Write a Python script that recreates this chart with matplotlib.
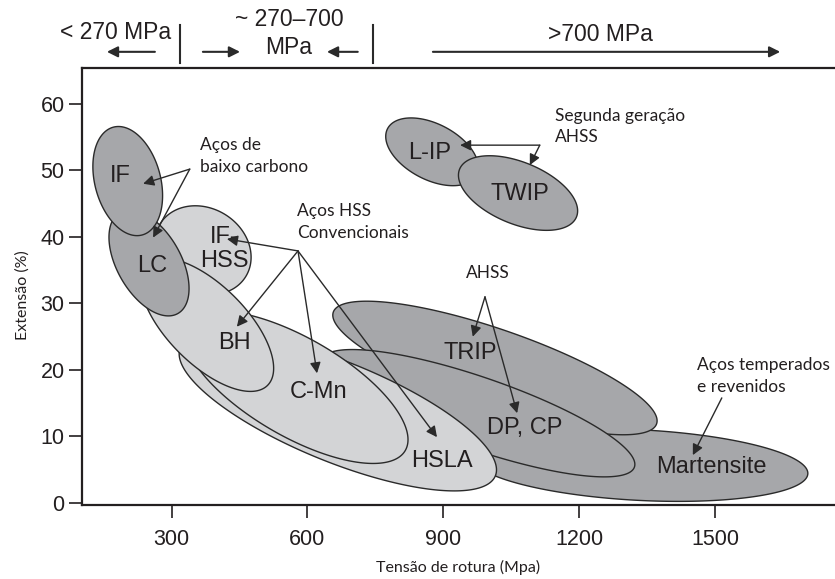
import numpy as np
import matplotlib.pyplot as plt

# steel families: centre (tensile strength MPa, elongation %) and two
# conjugate semi-axes of each ellipse, in the same units
familias = ['Martensite', 'TRIP', 'DP, CP', 'HSLA', 'C-Mn', 'IF-\nHSS',
            'BH', 'LC', 'IF', 'L-IP', 'TWIP']
centro_mpa = [1334, 1014, 977, 667, 575, 369, 378, 250, 203, 875, 1065]
centro_ext = [5.7, 20.3, 13.5, 13.7, 17.4, 38.0, 26.8, 36.1, 48.4, 52.8, 46.6]
eixo1_mpa = [371, 357, 345, 348, 241, 96, 134, 64, 32, 98, 129]
eixo1_ext = [-1.3, -8.4, -8.1, -9.6, -9.5, -3.8, -9.1, -7.6, -8.1, -3.5, -3.6]
eixo2_mpa = [-4, -28, -26, -41, -54, -46, -61, -61, -70, -29, -26]
eixo2_ext = [-5.3, -5.5, -5.1, -7.0, -6.4, -5.5, -4.2, -2.4, -1.3, -3.7, -4.3]
convencional = [False, False, False, True, True, True, True, False, False, False, False]

# label anchor for each family
rotulo_mpa = [1491, 959, 1080, 897, 625, 416, 438, 256, 186, 870, 1069]
rotulo_ext = [5.4, 22.6, 11.3, 6.3, 16.7, 38.2, 24.1, 35.6, 49.2, 52.6, 46.5]

# callout groups: text, text position, arrow origin, arrow targets
grupos = [
    ('Aços de\nbaixo carbono', (362, 52.2), (340, 50.2),
     [(237, 48.0), (259, 39.9)]),
    ('Aços HSS\nConvencionais', (577, 42.3), (579, 37.9),
     [(422, 39.7), (444, 26.5), (621, 19.5), (886, 9.9)]),
    ('Segunda geração\nAHSS', (1147, 56.6), (1113, 53.8),
     [(937, 53.8), (1091, 50.8)]),
    ('Aços temperados\ne revenidos', (1460, 19.1), (1515, 15.8),
     [(1451, 7.2)]),
]

xticks = [300, 600, 900, 1200, 1500]
yticks = [0, 10, 20, 30, 40, 50, 60]

cor_escura = '#a6a7aa'
cor_clara = '#d3d4d6'
cor_linha = '#2a2a2a'
cor_texto = '#231f20'

fig = plt.figure(figsize=(8.35, 5.79), dpi=100)
ax = fig.add_axes([82 / 835, 74 / 579, 753 / 835, 437 / 579])
ax.set_xlim(102, 1765)
ax.set_ylim(-0.3, 65.4)

t = np.linspace(0, 2 * np.pi, 400)
for i in range(len(familias)):
    x = centro_mpa[i] + eixo1_mpa[i] * np.cos(t) + eixo2_mpa[i] * np.sin(t)
    y = centro_ext[i] + eixo1_ext[i] * np.cos(t) + eixo2_ext[i] * np.sin(t)
    cor = cor_clara if convencional[i] else cor_escura
    ax.fill(x, y, fc=cor, ec=cor_linha, lw=1.0, zorder=2 + i)
    ax.text(rotulo_mpa[i], rotulo_ext[i], familias[i], ha='center', va='center',
            fontsize=17, family='Liberation Sans', color=cor_texto,
            linespacing=1.12, zorder=20)

seta = dict(arrowstyle='-|>', color=cor_linha, lw=1.0, mutation_scale=16,
            shrinkA=0, shrinkB=0)
for texto, pos, origem, alvos in grupos:
    ax.text(pos[0], pos[1], texto, ha='left', va='center', fontsize=12.5,
            family='Lato', color=cor_texto, linespacing=1.45, zorder=25)
    for alvo in alvos:
        ax.annotate('', xy=alvo, xytext=origem, arrowprops=seta, zorder=24)

# the two generation-AHSS arrows leave from a horizontal stub
ax.text(999, 34.6, 'AHSS', ha='center', va='center', fontsize=12.5,
        family='Lato', color=cor_texto, zorder=25)
for alvo in [(965, 25.0), (1063, 13.5)]:
    ax.annotate('', xy=alvo, xytext=(992, 31.0), arrowprops=seta, zorder=24)

# strength bands above the plot
faixa = ax.get_xaxis_transform()
kw = dict(fontsize=16.5, family='Liberation Sans', color=cor_texto,
          ha='center', va='center', transform=faixa, clip_on=False)
ax.text(177, 1.082, '< 270 MPa', **kw)
ax.text(559, 1.112, '~ 270–700', **kw)
ax.text(559, 1.046, 'MPa', **kw)
ax.text(1246, 1.076, '>700 MPa', **kw)
for xb in [318, 745]:
    ax.plot([xb, xb], [1.011, 1.098], transform=faixa, clip_on=False,
            color=cor_linha, lw=1.5)
for x0, x1 in [(263, 157), (369, 451), (711, 643), (877, 1644)]:
    ax.annotate('', xy=(x1, 1.037), xytext=(x0, 1.037), xycoords=faixa,
                textcoords=faixa, annotation_clip=False,
                arrowprops=dict(arrowstyle='-|>', color=cor_linha, lw=1.5,
                                mutation_scale=16, shrinkA=0, shrinkB=0))

ax.spines['right'].set_visible(False)
for s in ['left', 'bottom', 'top']:
    ax.spines[s].set_linewidth(1.6)
    ax.spines[s].set_color(cor_texto)

ax.set_xticks(xticks)
ax.set_yticks(yticks)
ax.tick_params(direction='out', length=9.5, width=1.2, color=cor_texto,
               labelsize=15.5, labelcolor=cor_texto)
ax.tick_params(axis='x', pad=8)
ax.tick_params(axis='y', pad=3)
for lab in ax.get_xticklabels() + ax.get_yticklabels():
    lab.set_family('Liberation Sans')

ax.set_xlabel('Tensão de rotura (Mpa)', fontsize=11.5, family='Lato',
              color=cor_texto, labelpad=7)
ax.set_ylabel('Extensão (%)', fontsize=11.5, family='Lato', color=cor_texto)
ax.yaxis.set_label_coords(-0.07, 0.48)

fig.savefig('out.png', dpi=100)
